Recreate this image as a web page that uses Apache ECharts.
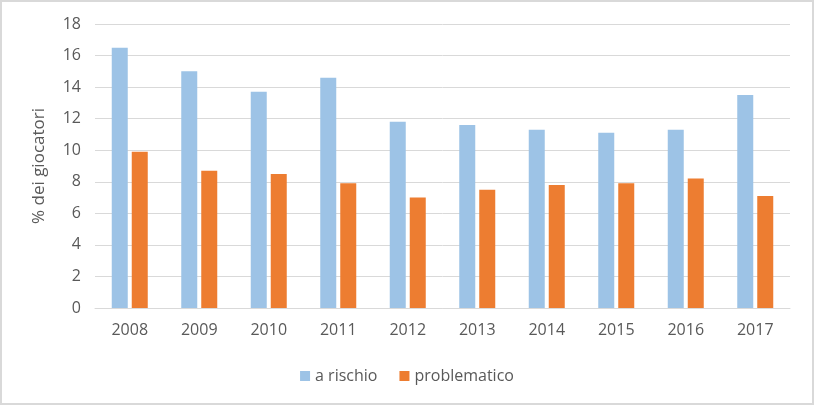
<!DOCTYPE html>
<html>
<head>
<meta charset="utf-8">
<script src="https://cdn.jsdelivr.net/npm/echarts@6/dist/echarts.min.js"></script>
<style>
html,body{margin:0;padding:0;background:#fff;}
#c{width:814px;height:405px;box-sizing:border-box;border:2px solid #d9d9d9;}
</style>
</head>
<body>
<div id="c"></div>
<script>
const categories = ['2008','2009','2010','2011','2012','2013','2014','2015','2016','2017'];
const aRischio = [16.5, 15.0, 13.7, 14.6, 11.8, 11.6, 11.3, 11.1, 11.3, 13.5];
const problematico = [9.9, 8.7, 8.5, 7.9, 7.0, 7.5, 7.8, 7.9, 8.2, 7.1];
const yTicks = [0, 2, 4, 6, 8, 10, 12, 14, 16, 18];

const chart = echarts.init(document.getElementById('c'), null, {renderer:'canvas'});
const font = 'Open Sans, Liberation Sans, sans-serif';
chart.setOption({
  animation: false,
  textStyle: {fontFamily: font},
  grid: {left: 93, right: 22, top: 22, bottom: 95, containLabel: false},
  legend: {
    bottom: 14, left: 'center',
    itemWidth: 10, itemHeight: 10, itemGap: 22, itemTextGap: 5,
    icon: 'rect',
    textStyle: {fontSize: 16, color: '#595959', fontFamily: font},
    data: ['a rischio', 'problematico']
  },
  xAxis: {
    type: 'category',
    data: categories,
    axisLine: {lineStyle: {color: '#d9d9d9', width: 1}},
    axisTick: {show: false},
    axisLabel: {fontSize: 16, color: '#595959', margin: 14, fontFamily: font}
  },
  yAxis: {
    type: 'value',
    min: yTicks[0], max: yTicks[yTicks.length-1], interval: 2,
    name: '% dei giocatori',
    nameLocation: 'middle',
    nameGap: 47,
    nameTextStyle: {fontSize: 17, color: '#595959', fontFamily: font},
    axisLine: {show: false},
    axisTick: {show: false},
    axisLabel: {fontSize: 16, color: '#595959', margin: 14, fontFamily: font},
    splitLine: {lineStyle: {color: '#d9d9d9', width: 1}}
  },
  series: [
    {name: 'a rischio', type: 'bar', data: aRischio, barWidth: 16, barGap: '25%',
     itemStyle: {color: '#9dc3e6'}},
    {name: 'problematico', type: 'bar', data: problematico, barWidth: 16, barGap: '25%',
     itemStyle: {color: '#ed7d31'}}
  ]
});
</script>
</body>
</html>
